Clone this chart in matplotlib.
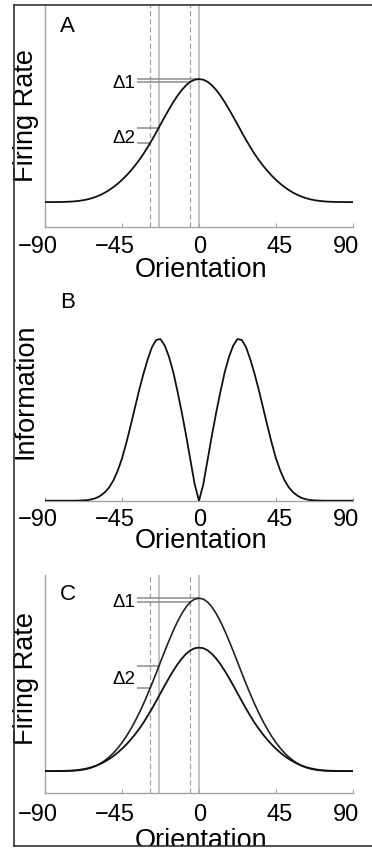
#!/usr/bin/env python3
# -*- coding: utf-8 -*-
"""
Tres paineis empilhados: curva de sintonia (A), informacao (B) e
curva de sintonia com ganho maior (C). Salva out.png.
"""
import numpy as np
import matplotlib
matplotlib.use("Agg")
import matplotlib.pyplot as plt
from matplotlib.lines import Line2D
from matplotlib.transforms import Bbox, TransformedBbox, ScaledTranslation, offset_copy

plt.rcParams["font.family"] = ["Liberation Sans", "DejaVu Sans"]

# orientacao (graus)
ORIENT = [-90, -87.5, -85, -82.5, -80, -77.5, -75, -72.5, -70, -67.5, -65, -62.5,
          -60, -57.5, -55, -52.5, -50, -47.5, -45, -42.5, -40, -37.5, -35, -32.5,
          -30, -27.5, -25, -22.5, -20, -17.5, -15, -12.5, -10, -7.5, -5, -2.5,
          0, 2.5, 5, 7.5, 10, 12.5, 15, 17.5, 20, 22.5, 25, 27.5, 30, 32.5, 35,
          37.5, 40, 42.5, 45, 47.5, 50, 52.5, 55, 57.5, 60, 62.5, 65, 67.5, 70,
          72.5, 75, 77.5, 80, 82.5, 85, 87.5, 90]

# taxa de disparo (painel A e curva baixa do painel C)
RATE_A = [1.000, 1.000, 1.001, 1.003, 1.006, 1.011, 1.019, 1.032, 1.051, 1.078,
          1.114, 1.161, 1.221, 1.295, 1.384, 1.489, 1.610, 1.748, 1.903, 2.075,
          2.265, 2.475, 2.705, 2.955, 3.235, 3.525, 3.835, 4.155, 4.470, 4.775,
          5.065, 5.330, 5.560, 5.750, 5.890, 5.975, 6.000, 5.975, 5.890, 5.750,
          5.560, 5.330, 5.065, 4.775, 4.470, 4.155, 3.835, 3.525, 3.235, 2.955,
          2.705, 2.475, 2.265, 2.075, 1.903, 1.748, 1.610, 1.489, 1.384, 1.295,
          1.221, 1.161, 1.114, 1.078, 1.051, 1.032, 1.019, 1.011, 1.006, 1.003,
          1.001, 1.000, 1.000]

# taxa de disparo com ganho maior (painel C)
RATE_C_HIGH = [1.000, 1.000, 1.000, 1.000, 1.000, 1.002, 1.007, 1.016, 1.031, 1.056,
               1.093, 1.146, 1.218, 1.312, 1.428, 1.568, 1.734, 1.928, 2.151, 2.404,
               2.687, 3.000, 3.343, 3.715, 4.115, 4.535, 4.969, 5.417, 5.858, 6.285,
               6.691, 7.062, 7.384, 7.650, 7.846, 7.965, 8.000, 7.965, 7.846, 7.650,
               7.384, 7.062, 6.691, 6.285, 5.858, 5.417, 4.969, 4.535, 4.115, 3.715,
               3.343, 3.000, 2.687, 2.404, 2.151, 1.928, 1.734, 1.568, 1.428, 1.312,
               1.218, 1.146, 1.093, 1.056, 1.031, 1.016, 1.007, 1.002, 1.000, 1.000,
               1.000, 1.000, 1.000]

# informacao (painel B)
INFO_B = [0, 0, 0, 0, 0, 0, 0, 0, 0.001, 0.002, 0.004, 0.009, 0.017, 0.031,
          0.052, 0.082, 0.125, 0.185, 0.26, 0.355, 0.46, 0.57, 0.68, 0.78, 0.87,
          0.945, 0.99, 0.995, 0.955, 0.885, 0.79, 0.67, 0.54, 0.40, 0.25, 0.10,
          0.0, 0.10, 0.25, 0.40, 0.54, 0.67, 0.79, 0.885, 0.955, 0.995, 0.99,
          0.945, 0.87, 0.78, 0.68, 0.57, 0.46, 0.355, 0.26, 0.185, 0.125, 0.082,
          0.052, 0.031, 0.017, 0.009, 0.004, 0.002, 0.001, 0, 0, 0, 0, 0, 0, 0, 0]

TICKS = [-90, -45, 0, 45, 90]
TICK_LABELS = ["\u221290", "\u221245", "0", "45", "90"]
TICK_SHIFT_PX = [-7, -7.5, 1, 4, -7]

SOLID_LINES = [-23.5, 0]
DASHED_LINES = [-28.5, -5]
DELTAS = [("\u03941", 0, -5), ("\u03942", -23.5, -28.5)]
DELTA_START = -36.2
DELTA_TEXT_X = -37.0

W, H = 372, 850
CINZA_EIXO = "#a4a4a4"
TAM_TICK = 17
TAM_ROTULO = 19.5


def rect_px(esq, topo, dir_, base):
    return [esq / W, 1 - base / H, (dir_ - esq) / W, (base - topo) / H]


def prepara_eixo(ax, ylim, esquerda=True):
    ax.set_xlim(-90, 90)
    ax.set_ylim(*ylim)
    for lado in ["top", "right"]:
        ax.spines[lado].set_visible(False)
    ax.spines["left"].set_visible(esquerda)
    for lado in ["left", "bottom"]:
        ax.spines[lado].set_color(CINZA_EIXO)
        ax.spines[lado].set_linewidth(1.0)
    ax.set_yticks([])
    ax.set_xticks(TICKS)
    ax.set_xticklabels([])
    ax.tick_params(axis="x", direction="in", length=3, width=0.8, color=CINZA_EIXO)
    ax.patch.set_visible(False)


def rotulos_x(ax, fig, pad_px):
    for t, lab, dx in zip(TICKS, TICK_LABELS, TICK_SHIFT_PX):
        tr = ax.get_xaxis_transform() + ScaledTranslation(dx / fig.dpi, -pad_px / fig.dpi,
                                                          fig.dpi_scale_trans)
        ax.text(t, 0, lab, transform=tr, ha="center", va="top", fontsize=TAM_TICK)


def linhas_deslocamento(ax):
    for x in SOLID_LINES:
        ax.axvline(x, color="#b2b2b2", lw=1.1, zorder=1)
    for x in DASHED_LINES:
        ax.axvline(x, color="#a0a0a0", lw=0.9, ls=(0, (4, 2.5)), zorder=1)


def marca_deltas(ax, curva, desce_px):
    for nome, x1, x2 in DELTAS:
        y1 = np.interp(x1, ORIENT, curva)
        y2 = np.interp(x2, ORIENT, curva)
        ax.hlines([y1, y2], DELTA_START, [x1, x2], color="#939393", lw=1.2, zorder=2)
        tr = offset_copy(ax.transData, fig=ax.figure, x=0, y=-desce_px, units="dots")
        ax.text(DELTA_TEXT_X, (y1 + y2) / 2, nome, transform=tr, ha="right",
                va="baseline", fontsize=13.5)


def letra(fig, txt, base_px):
    fig.text(60 / W, 1 - base_px / H, txt, ha="left", va="baseline", fontsize=16)


def main():
    fig = plt.figure(figsize=(W / 100, H / 100), dpi=100)

    # painel A
    ax = fig.add_axes(rect_px(45, 5, 353, 226.7))
    prepara_eixo(ax, (0, 9.01))
    linhas_deslocamento(ax)
    ax.plot(ORIENT, RATE_A, color="#111111", lw=1.3, zorder=3)
    marca_deltas(ax, RATE_A, 8)
    rotulos_x(ax, fig, 9.5)
    ax.set_ylabel("Firing Rate", fontsize=TAM_ROTULO)
    ax.yaxis.set_label_coords(-0.02, 0.5)
    ax.set_xlabel("Orientation", fontsize=TAM_ROTULO)
    ax.xaxis.set_label_coords(0.506, -0.137)
    letra(fig, "A", 31.7)

    # painel B
    ax = fig.add_axes(rect_px(45, 292, 353, 500.7))
    prepara_eixo(ax, (0, 1.285), esquerda=False)
    ax.plot(ORIENT, INFO_B, color="#111111", lw=1.3, zorder=3)
    rotulos_x(ax, fig, 8.5)
    ax.set_ylabel("Information", fontsize=TAM_ROTULO)
    ax.yaxis.set_label_coords(-0.02, 0.523)
    ax.set_xlabel("Orientation", fontsize=TAM_ROTULO)
    ax.xaxis.set_label_coords(0.506, -0.133)
    letra(fig, "B", 308.3)

    # painel C
    ax = fig.add_axes(rect_px(45, 575, 353, 793.3))
    prepara_eixo(ax, (0.1, 8.94))
    linhas_deslocamento(ax)
    ax.plot(ORIENT, RATE_C_HIGH, color="#222222", lw=1.2, zorder=3)
    ax.plot(ORIENT, RATE_A, color="#111111", lw=1.3, zorder=3)
    marca_deltas(ax, RATE_C_HIGH, 6.5)
    rotulos_x(ax, fig, 11)
    ax.set_ylabel("Firing Rate", fontsize=TAM_ROTULO)
    ax.yaxis.set_label_coords(-0.02, 0.526)
    xl = ax.set_xlabel("Orientation", fontsize=TAM_ROTULO)
    ax.xaxis.set_label_coords(0.506, -0.159)
    corte = TransformedBbox(Bbox.from_extents(0, 1 - 846 / H, 1, 1), fig.transFigure)
    xl.set_clip_box(corte)
    xl.set_clip_on(True)
    letra(fig, "C", 600)

    # moldura
    cor_moldura = "#333333"
    fig.add_artist(Line2D([14 / W, 14 / W], [1 - 5 / H, 1 - 846 / H],
                          transform=fig.transFigure, color=cor_moldura, lw=1.2))
    fig.add_artist(Line2D([14 / W, 1.0], [1 - 5 / H, 1 - 5 / H],
                          transform=fig.transFigure, color=cor_moldura, lw=1.2))
    fig.add_artist(Line2D([14 / W, 1.0], [1 - 846 / H, 1 - 846 / H],
                          transform=fig.transFigure, color=cor_moldura, lw=1.2))

    fig.savefig("out.png", dpi=100)
    plt.close(fig)


if __name__ == "__main__":
    main()
